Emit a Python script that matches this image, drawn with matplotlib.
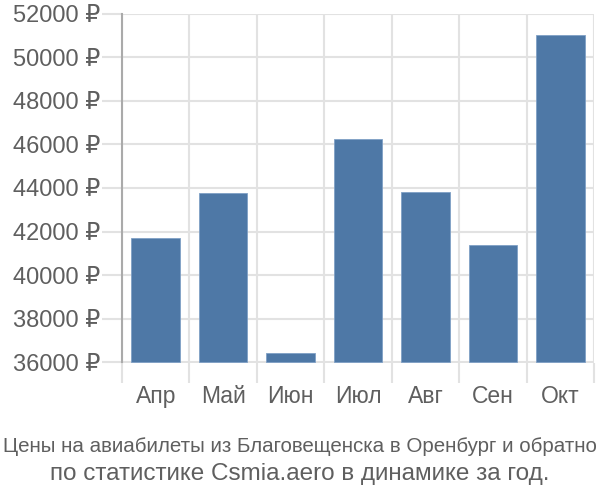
#!/usr/bin/env python3
import matplotlib
matplotlib.use('Agg')
import matplotlib.pyplot as plt
from matplotlib import font_manager
import numpy as np


months = ['Апр', 'Май', 'Июн', 'Июл', 'Авг', 'Сен', 'Окт']
prices = [41720, 43750, 36440, 46250, 43810, 41380, 51000]
y_ticks = [36000, 38000, 40000, 42000, 44000, 46000, 48000, 50000, 52000]
title_lines = ['Цены на авиабилеты из Благовещенска в Оренбург и обратно',
               'по статистике Csmia.aero в динамике за год.']

bar_color = '#4e78a6'
grid_color = '#e2e2e2'
text_color = '#5f5f5f'

plt.rcParams['font.family'] = ['Liberation Sans', 'DejaVu Sans']

# first caption line is squeezed in the original; use the narrow face if we have it
try:
    font_manager.findfont('Liberation Sans Narrow', fallback_to_default=False)
    narrow = {'family': ['Liberation Sans Narrow', 'Liberation Sans'], 'fontsize': 17.5}
except ValueError:
    narrow = {'family': ['Liberation Sans', 'DejaVu Sans'], 'fontsize': 14.8}

fig = plt.figure(figsize=(6, 5), dpi=100)
ax = fig.add_axes([122 / 600, 1 - 362.5 / 500, (594 - 122) / 600, (362.5 - 13.5) / 500])

x = np.arange(len(months))
ax.bar(x, [p - y_ticks[0] for p in prices], bottom=y_ticks[0], width=0.72,
       color=bar_color, edgecolor='#7fa0c6', linewidth=0.6, zorder=3)

ax.set_xlim(-0.5, len(months) - 0.5)
ax.set_ylim(y_ticks[0], y_ticks[-1])

# horizontal grid + left tick marks (20 px = 14.4 pt)
ax.set_yticks(y_ticks)
ax.set_yticklabels([f'{v} ₽' for v in y_ticks], fontsize=17, color=text_color)
ax.tick_params(axis='y', length=14.4, width=1.5, color=grid_color, pad=1.5)
ax.yaxis.grid(True, color=grid_color, linewidth=1.5, zorder=0)

# category labels + boundary lines that run below the axis
ax.set_xticks(x)
ax.set_xticklabels(months, fontsize=16.5, color=text_color)
ax.tick_params(axis='x', which='major', length=0, pad=16)
ax.set_xticks(np.arange(len(months) + 1) - 0.5, minor=True)
ax.tick_params(axis='x', which='minor', length=14.4, width=1.5, color=grid_color)
ax.xaxis.grid(True, which='minor', color=grid_color, linewidth=1.5, zorder=0)

for side in ['top', 'right', 'bottom']:
    ax.spines[side].set_visible(False)
ax.spines['left'].set_color('#aaaaaa')
ax.spines['left'].set_linewidth(1.5)
ax.spines['left'].set_bounds(y_ticks[0], y_ticks[-1])

fig.text(0.5, 1 - 446 / 500, title_lines[0], ha='center', va='center',
         color=text_color, **narrow)
fig.text(0.5, 1 - 474 / 500, title_lines[1], ha='center', va='center',
         fontsize=17.5, color=text_color)

fig.savefig('out.png', dpi=100)
